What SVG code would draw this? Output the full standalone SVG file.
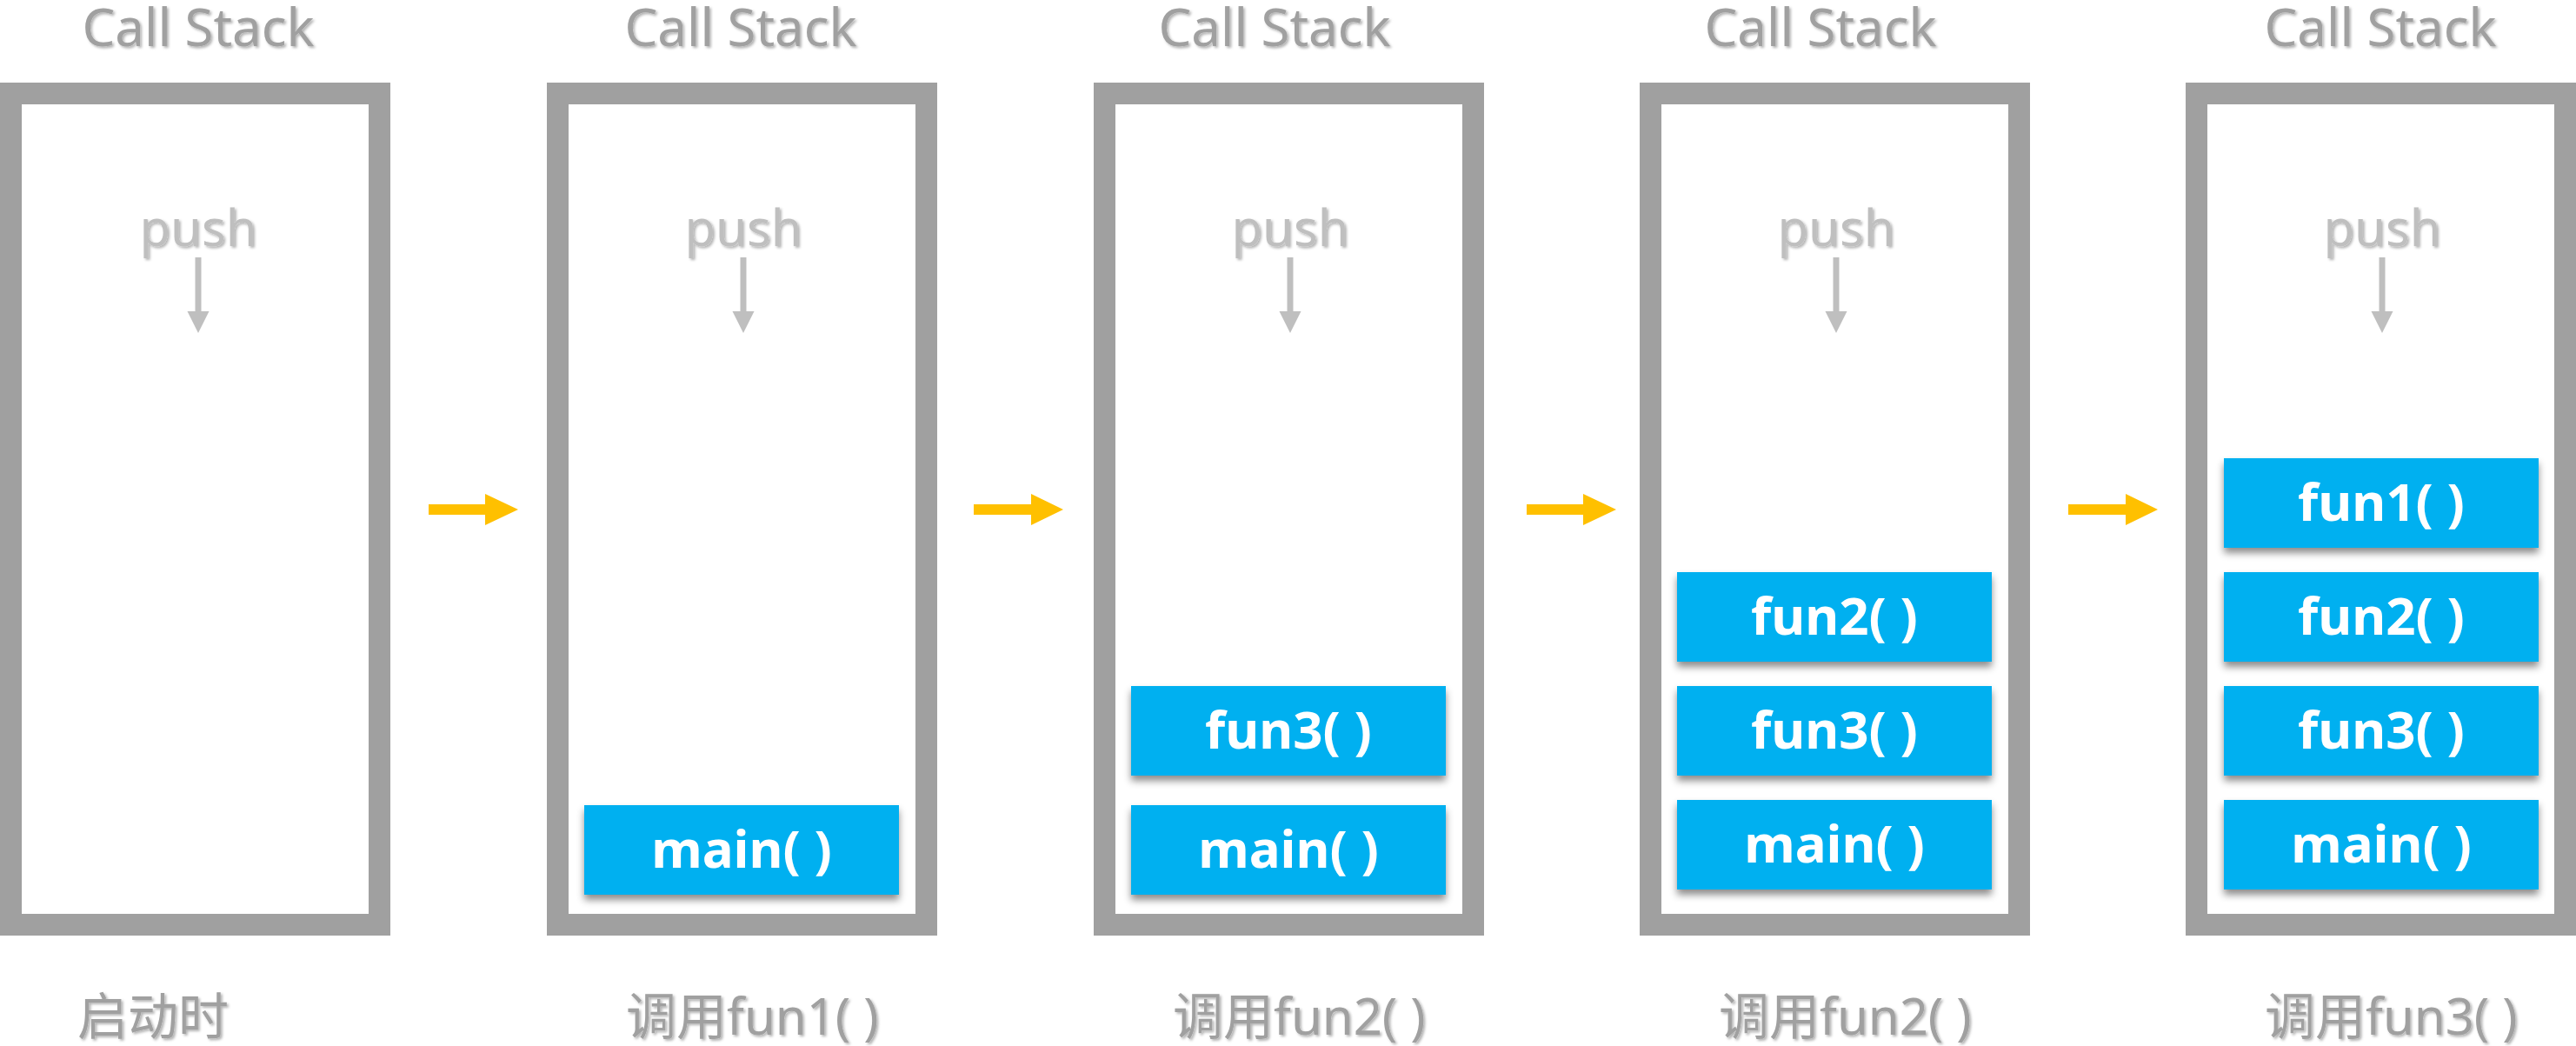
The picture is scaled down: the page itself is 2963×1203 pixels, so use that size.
<svg xmlns="http://www.w3.org/2000/svg" width="2963" height="1203" viewBox="0 0 2963 1203">
<style>
.frame{fill:none;stroke:#A0A0A0;stroke-width:25}
.title{font-family:"Noto Sans","Open Sans",sans-serif;font-size:60px;fill:#A0A0A0;text-anchor:middle}
.push{font-family:"Noto Sans","Open Sans",sans-serif;font-size:58px;fill:#BFBFBF;text-anchor:middle}
.pusharrow{stroke:#BFBFBF;stroke-width:7;fill:none}
.pushhead{fill:#BFBFBF}
.blk{fill:#00B0F0}
.blktxt{font-family:"Noto Sans","Open Sans",sans-serif;font-size:60px;font-weight:bold;fill:#FFFFFF;text-anchor:middle}
.label{font-family:"Noto Sans","Noto Sans CJK SC",sans-serif;font-size:58px;fill:#A0A0A0}
.flow{fill:#FFC000}
</style>
<defs>
<filter id="shadow" x="-10%" y="-30%" width="120%" height="170%">
<feDropShadow dx="0" dy="6" stdDeviation="4" flood-color="#000000" flood-opacity="0.45"/>
</filter>
<filter id="tshadow" x="-10%" y="-20%" width="120%" height="150%">
<feDropShadow dx="2" dy="2" stdDeviation="1.5" flood-color="#000000" flood-opacity="0.3"/>
</filter>
</defs>
<rect width="2963" height="1203" fill="#FFFFFF"/>

<g id="stack1">
<text class="title" x="228" y="53" filter="url(#tshadow)">Call Stack</text>
<rect class="frame" x="12.5" y="107.5" width="424" height="956"/>
<text class="push" x="228" y="283" filter="url(#tshadow)">push</text>
<line class="pusharrow" x1="228" y1="296" x2="228" y2="360"/>
<polygon class="pushhead" points="215.5,358 240.5,358 228,383"/>
<text class="label" x="89" y="1190" filter="url(#tshadow)">启动时</text>
</g>

<g id="stack2">
<text class="title" x="852" y="53" filter="url(#tshadow)">Call Stack</text>
<rect class="frame" x="641.5" y="107.5" width="424" height="956"/>
<text class="push" x="855" y="283" filter="url(#tshadow)">push</text>
<line class="pusharrow" x1="855" y1="296" x2="855" y2="360"/>
<polygon class="pushhead" points="842.5,358 867.5,358 855,383"/>
<g id="s2-main"><rect class="blk" x="672" y="926" width="362" height="103" filter="url(#shadow)"/><text class="blktxt" x="853" y="998">main( )</text></g>
<text class="label" x="720" y="1190" filter="url(#tshadow)">调用fun1( )</text>
</g>

<g id="stack3">
<text class="title" x="1466" y="53" filter="url(#tshadow)">Call Stack</text>
<rect class="frame" x="1270.5" y="107.5" width="424" height="956"/>
<text class="push" x="1484" y="283" filter="url(#tshadow)">push</text>
<line class="pusharrow" x1="1484" y1="296" x2="1484" y2="360"/>
<polygon class="pushhead" points="1471.5,358 1496.5,358 1484,383"/>
<g id="s3-fun3"><rect class="blk" x="1301" y="789" width="362" height="103" filter="url(#shadow)"/><text class="blktxt" x="1482" y="861">fun3( )</text></g>
<g id="s3-main"><rect class="blk" x="1301" y="926" width="362" height="103" filter="url(#shadow)"/><text class="blktxt" x="1482" y="998">main( )</text></g>
<text class="label" x="1349" y="1190" filter="url(#tshadow)">调用fun2( )</text>
</g>

<g id="stack4">
<text class="title" x="2094" y="53" filter="url(#tshadow)">Call Stack</text>
<rect class="frame" x="1898.5" y="107.5" width="424" height="956"/>
<text class="push" x="2112" y="283" filter="url(#tshadow)">push</text>
<line class="pusharrow" x1="2112" y1="296" x2="2112" y2="360"/>
<polygon class="pushhead" points="2099.5,358 2124.5,358 2112,383"/>
<g id="s4-fun2"><rect class="blk" x="1929" y="658" width="362" height="103" filter="url(#shadow)"/><text class="blktxt" x="2110" y="730">fun2( )</text></g>
<g id="s4-fun3"><rect class="blk" x="1929" y="789" width="362" height="103" filter="url(#shadow)"/><text class="blktxt" x="2110" y="861">fun3( )</text></g>
<g id="s4-main"><rect class="blk" x="1929" y="920" width="362" height="103" filter="url(#shadow)"/><text class="blktxt" x="2110" y="992">main( )</text></g>
<text class="label" x="1977" y="1190" filter="url(#tshadow)">调用fun2( )</text>
</g>

<g id="stack5">
<text class="title" x="2738" y="53" filter="url(#tshadow)">Call Stack</text>
<rect class="frame" x="2526.5" y="107.5" width="424" height="956"/>
<text class="push" x="2740" y="283" filter="url(#tshadow)">push</text>
<line class="pusharrow" x1="2740" y1="296" x2="2740" y2="360"/>
<polygon class="pushhead" points="2727.5,358 2752.5,358 2740,383"/>
<g id="s5-fun1"><rect class="blk" x="2558" y="527" width="362" height="103" filter="url(#shadow)"/><text class="blktxt" x="2739" y="599">fun1( )</text></g>
<g id="s5-fun2"><rect class="blk" x="2558" y="658" width="362" height="103" filter="url(#shadow)"/><text class="blktxt" x="2739" y="730">fun2( )</text></g>
<g id="s5-fun3"><rect class="blk" x="2558" y="789" width="362" height="103" filter="url(#shadow)"/><text class="blktxt" x="2739" y="861">fun3( )</text></g>
<g id="s5-main"><rect class="blk" x="2558" y="920" width="362" height="103" filter="url(#shadow)"/><text class="blktxt" x="2739" y="992">main( )</text></g>
<text class="label" x="2605" y="1190" filter="url(#tshadow)">调用fun3( )</text>
</g>

<g id="connectors">
<polygon class="flow" points="493,580 558,580 558,568 596,586 558,604 558,592 493,592"/>
<polygon class="flow" points="1120,580 1186,580 1186,568 1223,586 1186,604 1186,592 1120,592"/>
<polygon class="flow" points="1756,580 1821,580 1821,568 1859,586 1821,604 1821,592 1756,592"/>
<polygon class="flow" points="2379,580 2445,580 2445,568 2482,586 2445,604 2445,592 2379,592"/>
</g>
</svg>
